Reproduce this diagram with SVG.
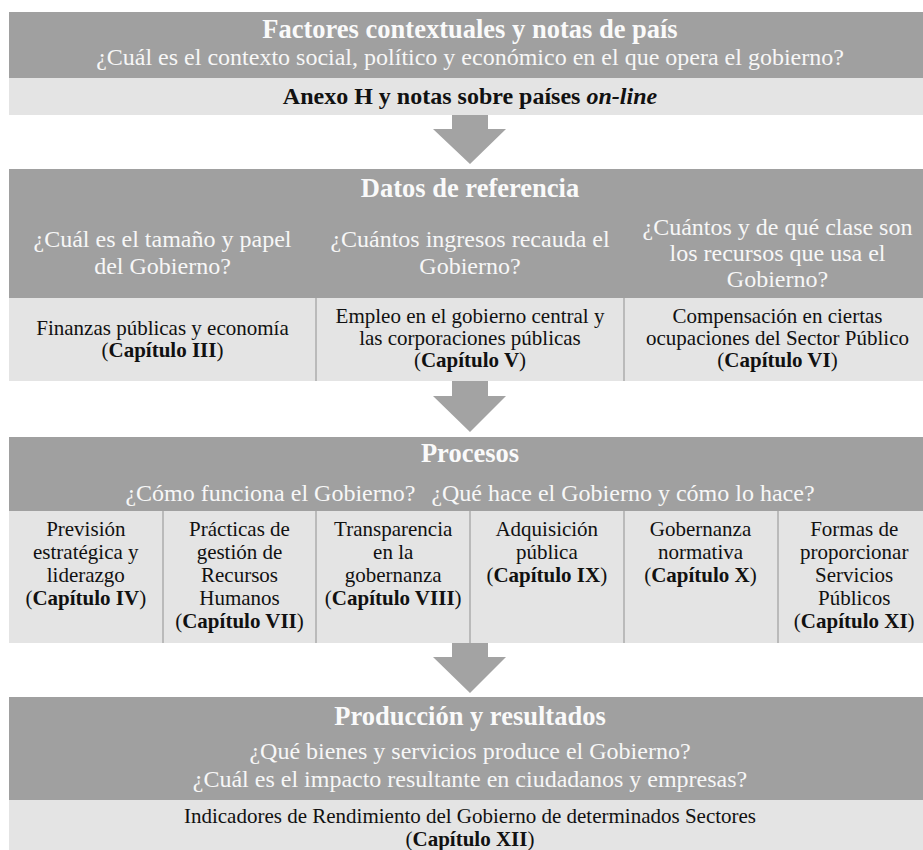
<svg xmlns="http://www.w3.org/2000/svg" width="923" height="850" viewBox="0 0 923 850" font-family="'Liberation Serif'">
<style>
.t0,.t1,.t2{font-family:"Liberation Serif","Times New Roman",serif;text-anchor:middle}
.dk{fill:#a0a0a0}
.lt{fill:#e4e4e4}
.t0{font-size:26.5px;font-weight:bold;fill:#fafafa}
.t1{font-size:24px;fill:#f7f7f7}
.t2{font-size:21px;fill:#111}
.bb{font-weight:bold}
.sep{stroke:#a3a3a3;stroke-width:1.3}
.arw{fill:#a3a3a3}
</style>
<rect width="923" height="850" fill="#fff"/>

<g id="contexto">
<rect class="dk" x="9" y="12" width="922" height="66"/>
<text class="t0" x="470" y="38">Factores contextuales y notas de país</text>
<text class="t1" x="470" y="65">¿Cuál es el contexto social, político y económico en el que opera el gobierno?</text>
<rect class="lt" x="9" y="78" width="922" height="37"/>
<text class="t2" x="470" y="104" style="font-size:24px;font-weight:bold">Anexo H y notas sobre países <tspan font-style="italic">on-line</tspan></text>
</g>

<g id="datos">
<rect class="dk" x="9" y="169" width="922" height="129"/>
<text class="t0" x="470" y="197">Datos de referencia</text>
<text class="t1" x="162.5" y="247">¿Cuál es el tamaño y papel</text>
<text class="t1" x="162.5" y="274">del Gobierno?</text>
<text class="t1" x="470" y="247">¿Cuántos ingresos recauda el</text>
<text class="t1" x="470" y="274">Gobierno?</text>
<text class="t1" x="777.5" y="235">¿Cuántos y de qué clase son</text>
<text class="t1" x="777.5" y="261">los recursos que usa el</text>
<text class="t1" x="777.5" y="287">Gobierno?</text>
<rect class="lt" x="9" y="298" width="922" height="83"/>
</g>
<g id="datos-finanzas">
<text class="t2" x="162.5" y="335">Finanzas públicas y economía</text>
<text class="t2" x="162.5" y="357">(<tspan class="bb">Capítulo III</tspan>)</text>
</g>
<g id="datos-empleo">
<text class="t2" x="470" y="323">Empleo en el gobierno central y</text>
<text class="t2" x="470" y="345">las corporaciones públicas</text>
<text class="t2" x="470" y="367">(<tspan class="bb">Capítulo V</tspan>)</text>
</g>
<g id="datos-compensacion">
<text class="t2" x="777.5" y="323">Compensación en ciertas</text>
<text class="t2" x="777.5" y="345">ocupaciones del Sector Público</text>
<text class="t2" x="777.5" y="367">(<tspan class="bb">Capítulo VI</tspan>)</text>
</g>

<g id="procesos">
<rect class="dk" x="9" y="437" width="922" height="74"/>
<text class="t0" x="470" y="462">Procesos</text>
<text class="t1" x="470" y="501">¿Cómo funciona el Gobierno?<tspan dx="16">¿Qué hace el Gobierno y cómo lo hace?</tspan></text>
<rect class="lt" x="9" y="511" width="922" height="132"/>
</g>
<g id="proc-prevision">
<text class="t2" x="85.8" y="536">Previsión</text>
<text class="t2" x="85.8" y="559">estratégica y</text>
<text class="t2" x="85.8" y="582">liderazgo</text>
<text class="t2" x="85.8" y="605">(<tspan class="bb">Capítulo IV</tspan>)</text>
</g>
<g id="proc-rrhh">
<text class="t2" x="239.5" y="536">Prácticas de</text>
<text class="t2" x="239.5" y="559">gestión de</text>
<text class="t2" x="239.5" y="582">Recursos</text>
<text class="t2" x="239.5" y="605">Humanos</text>
<text class="t2" x="239.5" y="628">(<tspan class="bb">Capítulo VII</tspan>)</text>
</g>
<g id="proc-transparencia">
<text class="t2" x="393.2" y="536">Transparencia</text>
<text class="t2" x="393.2" y="559">en la</text>
<text class="t2" x="393.2" y="582">gobernanza</text>
<text class="t2" x="393.2" y="605">(<tspan class="bb">Capítulo VIII</tspan>)</text>
</g>
<g id="proc-adquisicion">
<text class="t2" x="546.8" y="536">Adquisición</text>
<text class="t2" x="546.8" y="559">pública</text>
<text class="t2" x="546.8" y="582">(<tspan class="bb">Capítulo IX</tspan>)</text>
</g>
<g id="proc-gobernanza">
<text class="t2" x="700.5" y="536">Gobernanza</text>
<text class="t2" x="700.5" y="559">normativa</text>
<text class="t2" x="700.5" y="582">(<tspan class="bb">Capítulo X</tspan>)</text>
</g>
<g id="proc-servicios">
<text class="t2" x="854.2" y="536">Formas de</text>
<text class="t2" x="854.2" y="559">proporcionar</text>
<text class="t2" x="854.2" y="582">Servicios</text>
<text class="t2" x="854.2" y="605">Públicos</text>
<text class="t2" x="854.2" y="628">(<tspan class="bb">Capítulo XI</tspan>)</text>
</g>

<g id="produccion">
<rect class="dk" x="9" y="697" width="922" height="103"/>
<text class="t0" x="470" y="725">Producción y resultados</text>
<text class="t1" x="470" y="759">¿Qué bienes y servicios produce el Gobierno?</text>
<text class="t1" x="470" y="787">¿Cuál es el impacto resultante en ciudadanos y empresas?</text>
<rect class="lt" x="9" y="800" width="922" height="60"/>
<text class="t2" x="470" y="823">Indicadores de Rendimiento del Gobierno de determinados Sectores</text>
<text class="t2" x="470" y="846">(<tspan class="bb">Capítulo XII</tspan>)</text>
</g>

<g id="separadores">
<line class="sep" x1="316" y1="298" x2="316" y2="381"/>
<line class="sep" x1="624" y1="298" x2="624" y2="381"/>
<line class="sep" x1="163" y1="511" x2="163" y2="643"/>
<line class="sep" x1="316" y1="511" x2="316" y2="643"/>
<line class="sep" x1="470" y1="511" x2="470" y2="643"/>
<line class="sep" x1="624" y1="511" x2="624" y2="643"/>
<line class="sep" x1="778" y1="511" x2="778" y2="643"/>
</g>

<g id="connectors">
<polygon class="arw" points="452,115 488,115 488,129 506,129 470,164 433,129 452,129"/>
<polygon class="arw" points="452,381 488,381 488,396 506,396 470,432 433,396 452,396"/>
<polygon class="arw" points="452,643 488,643 488,657 506,657 470,693 433,657 452,657"/>
</g>
</svg>
